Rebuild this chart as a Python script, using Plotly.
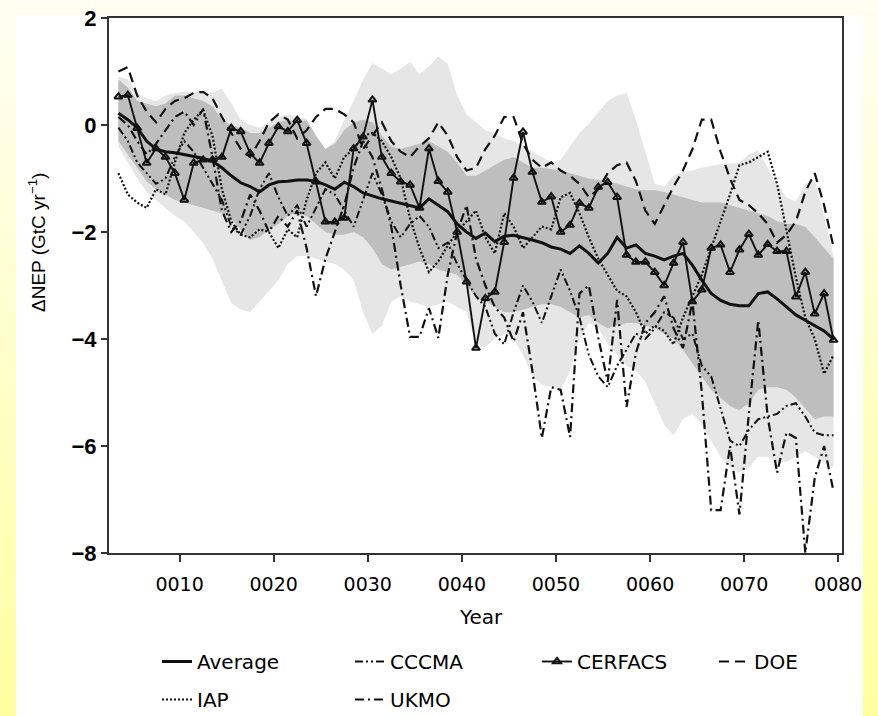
import base64
import plotly.graph_objects as go

# ---------------- data ----------------
years = list(range(3, 80))

light_upper = [0.9, 0.85, 0.6, 0.5, 0.45, 0.55, 0.6, 0.62, 0.62, 0.6,
               0.6, 0.68, 0.4, 0.1, 0.0, -0.05, 0.05, 0.15, 0.2, 0.15,
               0.12, -0.2, -0.45, -0.3, 0.1, 0.45, 0.85, 1.16, 1.05, 0.95,
               1.05, 1.18, 0.95, 1.1, 1.28, 1.15, 0.55, 0.2, 0.05, -0.1,
               -0.15, -0.25, -0.3, -0.4, -0.5, -0.6, -0.7, -0.65, -0.4, -0.15,
               0.03, 0.25, 0.45, 0.55, 0.6, 0.1, -0.5, -1.1, -1.15, -0.95,
               -0.87, -0.85, -0.8, -0.76, -0.73, -0.72, -0.71, -0.55, -0.47, -0.8,
               -1.1, -1.35, -1.44, -1.1, -1.03, -1.7, -2.46]
light_lower = [-0.4, -0.7, -1.0, -1.25, -1.4, -1.55, -1.7, -1.8, -2.0, -2.2,
               -2.5, -2.9, -3.33, -3.45, -3.5, -3.3, -3.1, -2.9, -2.6, -2.45,
               -2.45, -2.5, -2.55, -2.6, -2.7, -2.9, -3.5, -3.9, -3.75, -3.3,
               -3.2, -3.3, -3.35, -3.4, -3.35, -3.3, -3.4, -3.5, -4.1, -4.15,
               -4.0, -3.9, -4.0, -4.3, -4.7, -4.85, -4.9, -4.95, -4.6, -4.0,
               -3.7, -3.8, -4.1, -4.3, -4.5, -4.6, -4.8, -5.2, -5.6, -5.8,
               -5.5, -5.4, -5.6, -5.9, -6.2, -6.4, -6.5, -6.4, -6.2, -6.2,
               -6.3, -6.3, -6.2, -6.1, -6.2, -6.3, -6.4]
dark_upper = [0.85, 0.7, 0.45, 0.4, 0.35, 0.4, 0.55, 0.55, 0.5, 0.45,
              0.35, 0.1, 0.0, -0.05, -0.15, -0.15, -0.05, 0.05, 0.1, 0.05,
              0.09, -0.2, -0.45, -0.35, -0.1, 0.05, 0.1, 0.05, -0.2, -0.4,
              -0.45, -0.4, -0.35, -0.3, -0.4, -0.5, -0.7, -0.95, -0.95, -0.85,
              -0.75, -0.65, -0.6, -0.7, -0.8, -0.8, -0.82, -0.85, -0.9, -0.95,
              -1.0, -1.03, -1.05, -1.1, -1.15, -1.2, -1.22, -1.22, -1.25, -1.3,
              -1.35, -1.4, -1.45, -1.45, -1.45, -1.5, -1.55, -1.6, -1.65, -1.7,
              -1.8, -1.85, -1.85, -1.9, -2.1, -2.3, -2.5]
dark_lower = [-0.3, -0.55, -0.8, -1.05, -1.2, -1.3, -1.4, -1.45, -1.5, -1.55,
              -1.6, -1.65, -1.75, -1.95, -2.15, -2.1, -1.95, -1.85, -1.7, -1.65,
              -1.7, -1.85, -2.0, -2.05, -2.05, -2.0, -2.1, -2.3, -2.6, -2.7,
              -2.65, -2.6, -2.55, -2.6, -2.7, -2.75, -2.8, -3.0, -3.2, -3.3,
              -3.4, -3.5, -3.5, -3.45, -3.4, -3.35, -3.35, -3.4, -3.5, -3.6,
              -3.55, -3.7, -3.8, -3.75, -3.7, -3.7, -3.75, -3.8, -3.9, -4.0,
              -4.2, -4.45, -4.7, -4.95, -5.1, -5.25, -5.33, -5.2, -4.95, -4.9,
              -4.9, -4.95, -5.1, -5.3, -5.5, -5.45, -5.45]

average = [0.22, 0.1, -0.05, -0.3, -0.45, -0.5, -0.52, -0.55, -0.58, -0.62,
           -0.68, -0.8, -0.95, -1.08, -1.15, -1.25, -1.12, -1.06, -1.05, -1.03,
           -1.03, -1.05, -1.12, -1.2, -1.07, -1.15, -1.27, -1.33, -1.38, -1.42,
           -1.46, -1.5, -1.55, -1.38, -1.5, -1.62, -1.85, -2.0, -2.12, -2.02,
           -2.18, -2.08, -2.06, -2.1, -2.15, -2.2, -2.28, -2.32, -2.4, -2.26,
           -2.4, -2.58, -2.4, -2.1, -2.3, -2.24, -2.4, -2.45, -2.52, -2.45,
           -2.4, -2.62, -2.9, -3.15, -3.28, -3.35, -3.38, -3.38, -3.15, -3.12,
           -3.25, -3.4, -3.55, -3.65, -3.75, -3.85, -4.0]
cccma = [-0.05, -0.3, -0.7, -0.9, -1.1, -1.0, -0.6, -0.3, -0.5, -0.8,
         -1.1, -1.4, -1.9, -2.05, -1.7, -1.2, -0.9, -1.35, -1.7, -1.5,
         -1.9, -1.55, -1.2, -1.3, -1.6, -1.9, -1.4, -0.9, -1.3, -1.8,
         -2.1, -1.85, -1.7, -1.9, -2.3, -2.2, -2.6, -2.9, -3.2, -3.4,
         -3.9, -4.1, -3.5, -3.0, -3.3, -3.7, -3.2, -2.7, -3.1, -3.6,
         -4.3, -4.7, -4.9, -4.5, -4.2, -3.9, -4.0, -3.8, -3.5, -3.6,
         -4.0, -3.9, -4.5, -4.7, -5.3, -5.9, -6.0, -5.7, -5.5, -5.45,
         -5.4, -5.25, -5.2, -5.45, -5.75, -5.8, -5.8]
cerfacs = [0.53, 0.56, -0.06, -0.71, -0.44, -0.6, -0.9, -1.4, -0.71, -0.65,
           -0.65, -0.6, -0.06, -0.12, -0.53, -0.71, -0.34, -0.03, -0.12, 0.09,
           -0.34, -1.06, -1.81, -1.81, -1.74, -0.44, -0.22, 0.47, -0.6, -0.9,
           -1.06, -1.12, -1.55, -0.44, -1.05, -1.25, -2.0, -2.93, -4.17, -3.24,
           -3.12, -2.19, -0.99, -0.13, -0.88, -1.44, -1.34, -2.0, -1.87, -1.46,
           -1.55, -1.16, -1.07, -1.35, -2.43, -2.56, -2.56, -2.75, -3.0, -2.58,
           -2.19, -3.3, -3.08, -2.3, -2.24, -2.75, -2.33, -2.04, -2.43, -2.23,
           -2.36, -2.36, -3.21, -2.75, -3.53, -3.15, -4.02]
doe = [1.0, 1.08, 0.55, 0.25, 0.05, 0.3, 0.45, 0.5, 0.6, 0.62,
       0.5, 0.15, -0.15, -0.45, -0.6, -0.3, 0.05, 0.2, 0.1, -0.25,
       -0.1, 0.15, 0.3, 0.3, 0.2, 0.05, -0.45, -0.2, 0.05, -0.3,
       -0.5, -0.6, -0.4, -0.25, 0.05, -0.2, -0.6, -0.85, -0.8, -0.45,
       -0.2, 0.15, 0.15, -0.35, -0.65, -0.8, -0.7, -0.85, -0.95, -1.1,
       -1.35, -1.2, -0.9, -0.75, -0.7, -1.05, -1.6, -1.85, -1.5, -1.15,
       -0.85, -0.45, 0.1, 0.1, -0.5, -1.0, -1.4, -1.5, -1.65, -1.85,
       -2.2, -2.05, -1.8, -1.25, -0.9, -1.5, -2.28]
iap = [-0.9, -1.3, -1.45, -1.55, -1.2, -1.3, -0.7, -0.15, 0.1, 0.28,
       -0.2, -1.2, -1.8, -2.05, -2.1, -1.95, -2.0, -2.3, -1.95, -2.1,
       -1.4, -0.9, -0.7, -1.0, -0.6, -0.45, -0.2, -0.15, -0.3, -0.6,
       -1.0, -1.75, -2.3, -2.75, -2.55, -2.25, -2.0, -1.8, -1.6, -2.1,
       -2.4, -1.65, -1.9, -2.3, -2.1, -1.9, -1.95, -1.35, -1.27, -1.65,
       -2.1, -2.5, -2.8, -3.1, -3.2, -3.5, -3.9, -3.75, -3.85, -4.1,
       -3.6, -3.2, -2.8, -2.3, -1.8, -1.3, -0.75, -0.7, -0.6, -0.5,
       -1.1, -1.95, -2.85, -3.6, -4.0, -4.65, -4.3]
ukmo = [0.15, 0.0, -0.3, -0.55, -0.35, -0.1, 0.15, 0.25, 0.0, 0.3,
        -0.6, -1.6, -2.0, -1.8, -1.3, -1.6, -2.0, -1.7, -1.9, -1.6,
        -2.3, -3.2, -2.5, -2.0, -1.5, -0.8, -0.3, -0.6, -1.2, -1.9,
        -3.0, -3.96, -3.96, -3.42, -3.98, -2.8, -2.0, -1.5, -2.5, -3.0,
        -3.4, -3.6, -4.05, -3.5, -4.6, -5.85, -4.9, -4.95, -5.83, -3.15,
        -3.0, -3.98, -4.8, -3.27, -5.27, -4.26, -3.7, -3.5, -3.2, -3.8,
        -4.17, -3.3, -5.0, -7.2, -7.2, -6.0, -7.28, -5.4, -3.65, -5.45,
        -6.5, -5.75, -5.85, -8.0, -6.6, -6.0, -6.85]

tick_years = [10, 20, 30, 40, 50, 60, 70, 80]
tick_labels = ["0010", "0020", "0030", "0040", "0050", "0060", "0070", "0080"]
y_ticks = [-8, -6, -4, -2, 0, 2]

# ---------------- figure ----------------
x = [yr + 0.5 for yr in years]  # annual values centred on mid-year

fig = go.Figure()

fig.add_trace(go.Scatter(x=x, y=light_upper, mode="lines", line=dict(width=0),
                         showlegend=False, hoverinfo="skip"))
fig.add_trace(go.Scatter(x=x, y=light_lower, mode="lines", line=dict(width=0),
                         fill="tonexty", fillcolor="#e6e6e6",
                         showlegend=False, hoverinfo="skip"))
fig.add_trace(go.Scatter(x=x, y=dark_upper, mode="lines", line=dict(width=0),
                         showlegend=False, hoverinfo="skip"))
fig.add_trace(go.Scatter(x=x, y=dark_lower, mode="lines", line=dict(width=0),
                         fill="tonexty", fillcolor="#bebebe",
                         showlegend=False, hoverinfo="skip"))

ink = "#111"
fig.add_trace(go.Scatter(x=x, y=iap, name="IAP", mode="lines",
                         line=dict(color=ink, width=2.2, dash="2px,2px"),
                         legend="legend", legendgroup="iap", legendrank=2))
fig.add_trace(go.Scatter(x=x, y=ukmo, name="UKMO", mode="lines",
                         line=dict(color=ink, width=2.2, dash="9px,4px,2px,4px"),
                         legend="legend2", legendgroup="ukmo", legendrank=2))
fig.add_trace(go.Scatter(x=x, y=cccma, name="CCCMA", mode="lines",
                         line=dict(color=ink, width=2, dash="8px,3px,2px,3px,2px,3px"),
                         legend="legend2", legendgroup="cccma", legendrank=1))
fig.add_trace(go.Scatter(x=x, y=doe, name="DOE", mode="lines",
                         line=dict(color=ink, width=2.2, dash="10px,6px"),
                         legend="legend4", legendgroup="doe", legendrank=1))
fig.add_trace(go.Scatter(x=x, y=cerfacs, name="CERFACS", mode="lines+markers",
                         line=dict(color=ink, width=1.9),
                         marker=dict(symbol="triangle-up-open", size=7, color=ink,
                                     line=dict(width=2, color=ink)),
                         legend="legend3", legendgroup="cerfacs", legendrank=1))
fig.add_trace(go.Scatter(x=x, y=average, name="Average", mode="lines",
                         line=dict(color=ink, width=3),
                         legend="legend", legendgroup="avg", legendrank=1))

# page background: pale-yellow gradient frame with a white card
svg = """<svg xmlns="http://www.w3.org/2000/svg" width="878" height="716">
<defs><linearGradient id="g" x1="0" y1="0" x2="0" y2="1">
<stop offset="0" stop-color="#fffef2"/><stop offset="1" stop-color="#ffffa0"/>
</linearGradient></defs>
<rect width="878" height="716" fill="url(#g)"/>
<rect x="16" y="15" width="847" height="701" fill="#ffffff"/>
</svg>"""
src = "data:image/svg+xml;base64," + base64.b64encode(svg.encode()).decode()

L, R, T, B = 109, 36, 18, 163
W, H = 878, 716
pw, ph = W - L - R, H - T - B

def px_x(p):
    return (p - L) / pw

def px_y(p):
    return (H - B - p) / ph

axis_color = "#333"
legend_font = dict(family="DejaVu Sans, Liberation Sans, sans-serif", size=20, color="#000")

def col_legend(px_left):
    return dict(orientation="v", x=px_x(px_left), y=px_y(642),
                xanchor="left", yanchor="top", traceorder="grouped",
                tracegroupgap=9, bgcolor="rgba(0,0,0,0)",
                font=legend_font, itemclick=False, itemdoubleclick=False)

fig.update_layout(
    width=W, height=H,
    margin=dict(l=L, r=R, t=T, b=B, autoexpand=False),
    paper_bgcolor="#ffffff", plot_bgcolor="#ffffff",
    images=[dict(source=src, xref="paper", yref="paper",
                 x=px_x(0), y=px_y(0), sizex=W / pw, sizey=H / ph,
                 xanchor="left", yanchor="top", sizing="stretch", layer="below")],
    xaxis=dict(range=[2.5, 80.4], tickvals=tick_years, ticktext=tick_labels,
               ticks="outside", ticklen=7, tickwidth=1.5, tickcolor=axis_color,
               showline=True, linecolor=axis_color, linewidth=2, mirror=True,
               showgrid=False, zeroline=False, ticklabelstandoff=6,
               tickfont=dict(family="DejaVu Sans, Liberation Sans, sans-serif", size=19, color="#000")),
    yaxis=dict(range=[-8, 2], tickvals=y_ticks,
               ticks="outside", ticklen=6, tickwidth=1.5, tickcolor=axis_color,
               showline=True, linecolor=axis_color, linewidth=2, mirror=True,
               showgrid=False, zeroline=False,
               tickfont=dict(family="Liberation Sans, Arial, sans-serif", size=22,
                             color="#000", weight="bold")),
    legend=col_legend(157),
    legend2=col_legend(350),
    legend3=col_legend(537),
    legend4=col_legend(714),
    annotations=[
        dict(text="ΔNEP (GtC yr<sup>−1</sup>)", textangle=-90, showarrow=False,
             xref="paper", yref="paper", x=px_x(37), y=px_y(243),
             xanchor="center", yanchor="middle",
             font=dict(family="Liberation Sans, Arial, sans-serif", size=19, color="#000")),
        dict(text="Year", showarrow=False, xref="paper", yref="paper",
             x=px_x(481), y=px_y(617), xanchor="center", yanchor="middle",
             font=dict(family="DejaVu Sans, Liberation Sans, sans-serif", size=20, color="#000")),
    ],
    showlegend=True,
)

fig.write_html("out.html",
               config={"displayModeBar": False},
               post_script="document.body.style.margin='0';document.body.style.overflow='hidden';")
